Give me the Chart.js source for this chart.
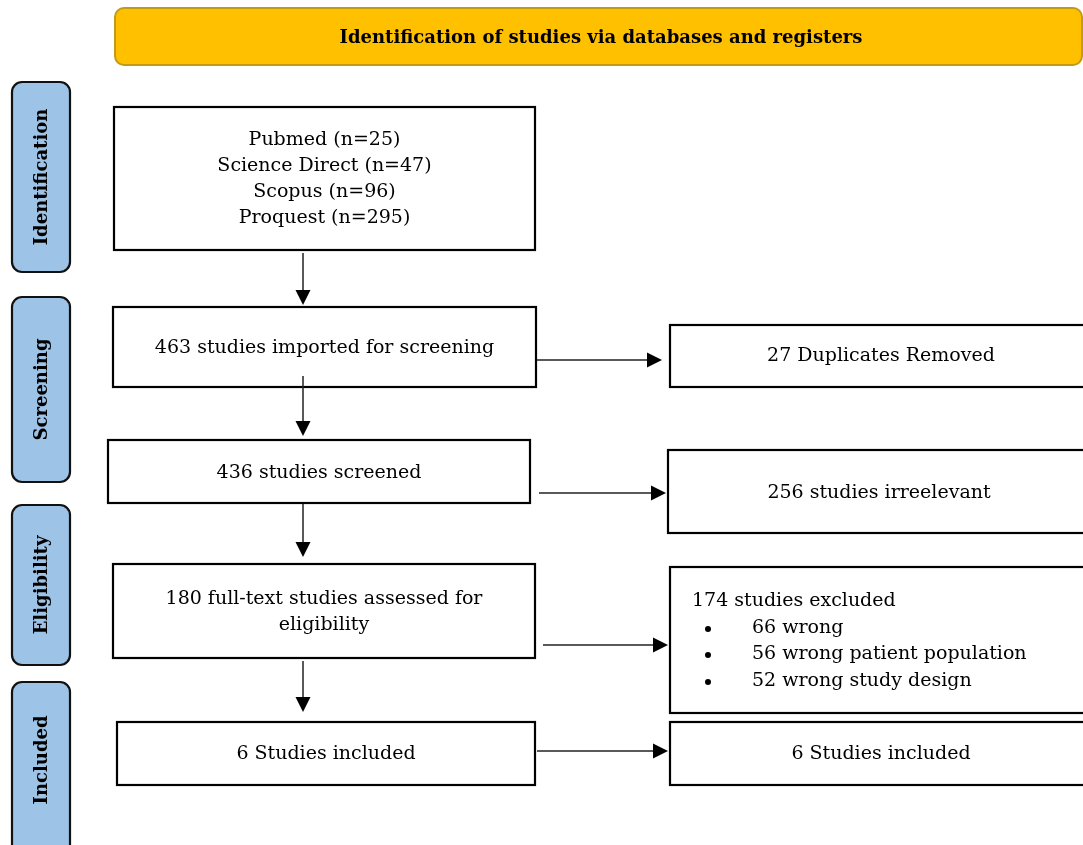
<!DOCTYPE html>
<html>
<head>
<meta charset="utf-8">
<script src="https://cdn.jsdelivr.net/npm/chart.js@4.4.1/dist/chart.umd.min.js"></script>
<style>
  html, body { margin: 0; padding: 0; background: #ffffff; }
  #wrap { position: relative; width: 1083px; height: 845px; }
</style>
</head>
<body>
<div id="wrap"><canvas id="c"></canvas></div>
<script>
// ---- Data ----
const headerTitle = "Identification of studies via databases and registers";
const stageLabels = ["Identification", "Screening", "Eligibility", "Included"];
const sourceNames = ["Pubmed", "Science Direct", "Scopus", "Proquest"];
const sourceCounts = [25, 47, 96, 295];
const flowCounts = [463, 436, 180, 6];          // imported, screened, assessed, included
const removedCounts = [27, 256, 174, 6];        // duplicates, irrelevant, excluded, included
const exclusionReasons = ["wrong", "wrong patient population", "wrong study design"];
const exclusionCounts = [66, 56, 52];

// ---- Texts built from data ----
const leftTexts = [
  sourceNames.map((n, i) => `${n} (n=${sourceCounts[i]})`),
  [`${flowCounts[0]} studies imported for screening`],
  [`${flowCounts[1]} studies screened`],
  [`${flowCounts[2]} full-text studies assessed for`, "eligibility"],
  [`${flowCounts[3]} Studies included`]
];
const rightTexts = [
  `${removedCounts[0]} Duplicates Removed`,
  `${removedCounts[1]} studies irreelevant`,
  `${removedCounts[2]} studies excluded`,
  `${removedCounts[3]} Studies included`
];

// ---- Layout (diagram units on the chart's x/y scales) ----
const layout = {
  header: [115, 8, 1082, 65],
  stages: [[12, 82, 70, 272], [12, 297, 70, 482], [12, 505, 70, 665], [12, 682, 70, 870]],
  left: [[114, 107, 535, 250], [113, 307, 536, 387], [108, 440, 530, 503], [113, 564, 535, 658], [117, 722, 535, 785]],
  leftTextY: [[140, 166, 192, 218], [348], [473], [599, 625], [754]],
  right: [[670, 325, 1095, 387], [668, 450, 1095, 533], [670, 567, 1095, 713], [670, 722, 1095, 785]],
  rightTextY: [356, 493, 601, 754],
  vArrows: [[303, 253, 305], [303, 376, 436], [303, 504, 557], [303, 661, 712]],
  hArrows: [[360, 537, 662], [493, 539, 666], [645, 543, 668], [751, 537, 668]],
  bulletX: 708, reasonX: 752, reasonY: [628, 654, 681], excludedX: 692
};

const SERIF = '"DejaVu Serif", "Liberation Serif", serif';

function roundRect(ctx, x0, y0, x1, y1, r) {
  ctx.beginPath();
  ctx.moveTo(x0 + r, y0);
  ctx.lineTo(x1 - r, y0);
  ctx.arcTo(x1, y0, x1, y0 + r, r);
  ctx.lineTo(x1, y1 - r);
  ctx.arcTo(x1, y1, x1 - r, y1, r);
  ctx.lineTo(x0 + r, y1);
  ctx.arcTo(x0, y1, x0, y1 - r, r);
  ctx.lineTo(x0, y0 + r);
  ctx.arcTo(x0, y0, x0 + r, y0, r);
  ctx.closePath();
}

const flowPlugin = {
  id: 'flow',
  afterDraw(chart) {
    const ctx = chart.ctx;
    const X = v => chart.scales.x.getPixelForValue(v);
    const Y = v => chart.scales.y.getPixelForValue(v);
    ctx.save();

    // header bar
    const h = layout.header;
    roundRect(ctx, X(h[0]), Y(h[1]), X(h[2]), Y(h[3]), 9);
    ctx.fillStyle = '#FFC000';
    ctx.fill();
    ctx.lineWidth = 2;
    ctx.strokeStyle = '#C39A14';
    ctx.stroke();
    ctx.fillStyle = '#000';
    ctx.font = 'bold 18px ' + SERIF;
    ctx.textAlign = 'center';
    ctx.textBaseline = 'middle';
    ctx.fillText(headerTitle, X(601), Y(38));

    // stage labels
    layout.stages.forEach((s, i) => {
      roundRect(ctx, X(s[0]), Y(s[1]), X(s[2]), Y(s[3]), 10);
      ctx.fillStyle = '#9DC3E6';
      ctx.fill();
      ctx.lineWidth = 2.2;
      ctx.strokeStyle = '#111';
      ctx.stroke();
      const cy = i === 3 ? 760 : (s[1] + s[3]) / 2;
      ctx.save();
      ctx.translate(X((s[0] + s[2]) / 2 + 1), Y(cy));
      ctx.rotate(-Math.PI / 2);
      ctx.fillStyle = '#000';
      ctx.font = 'bold 18px ' + SERIF;
      ctx.textAlign = 'center';
      ctx.textBaseline = 'middle';
      ctx.fillText(stageLabels[i], 0, 0);
      ctx.restore();
    });

    // boxes
    ctx.strokeStyle = '#000';
    ctx.lineWidth = 2.2;
    ctx.fillStyle = '#000';
    ctx.font = '19px ' + SERIF;
    ctx.textBaseline = 'middle';
    layout.left.forEach((b, i) => {
      ctx.strokeRect(X(b[0]), Y(b[1]), X(b[2]) - X(b[0]), Y(b[3]) - Y(b[1]));
      ctx.textAlign = 'center';
      leftTexts[i].forEach((t, j) => {
        ctx.fillText(t, X((b[0] + b[2]) / 2), Y(layout.leftTextY[i][j]));
      });
    });
    layout.right.forEach((b, i) => {
      ctx.strokeRect(X(b[0]), Y(b[1]), X(b[2]) - X(b[0]), Y(b[3]) - Y(b[1]));
      if (i === 2) {
        ctx.textAlign = 'left';
        ctx.fillText(rightTexts[i], X(layout.excludedX), Y(layout.rightTextY[i]));
        exclusionReasons.forEach((r, k) => {
          ctx.beginPath();
          ctx.arc(X(layout.bulletX), Y(layout.reasonY[k] + 1), 3, 0, Math.PI * 2);
          ctx.fill();
          ctx.fillText(`${exclusionCounts[k]} ${r}`, X(layout.reasonX), Y(layout.reasonY[k]));
        });
      } else {
        ctx.textAlign = 'center';
        ctx.fillText(rightTexts[i], X(b[0] + 211), Y(layout.rightTextY[i]));
      }
    });

    // arrows
    ctx.lineWidth = 1.5;
    ctx.strokeStyle = '#222';
    layout.vArrows.forEach(a => {
      const x = X(a[0]);
      ctx.beginPath();
      ctx.moveTo(x, Y(a[1]));
      ctx.lineTo(x, Y(a[2] - 12));
      ctx.stroke();
      ctx.beginPath();
      ctx.moveTo(x - 7.5, Y(a[2] - 15));
      ctx.lineTo(x + 7.5, Y(a[2] - 15));
      ctx.lineTo(x, Y(a[2]));
      ctx.closePath();
      ctx.fillStyle = '#000';
      ctx.fill();
    });
    layout.hArrows.forEach(a => {
      const y = Y(a[0]);
      ctx.beginPath();
      ctx.moveTo(X(a[1]), y);
      ctx.lineTo(X(a[2] - 12), y);
      ctx.stroke();
      ctx.beginPath();
      ctx.moveTo(X(a[2] - 15), y - 7.5);
      ctx.lineTo(X(a[2] - 15), y + 7.5);
      ctx.lineTo(X(a[2]), y);
      ctx.closePath();
      ctx.fillStyle = '#000';
      ctx.fill();
    });
    ctx.restore();
  }
};

new Chart(document.getElementById('c'), {
  type: 'scatter',
  data: { datasets: [{ data: [], pointRadius: 0 }] },
  options: {
    responsive: true,
    maintainAspectRatio: false,
    animation: false,
    layout: { padding: 0 },
    plugins: { legend: { display: false }, tooltip: { enabled: false } },
    scales: {
      x: { type: 'linear', min: 0, max: 1083, display: false },
      y: { type: 'linear', min: 0, max: 845, reverse: true, display: false }
    }
  },
  plugins: [flowPlugin]
});
</script>
</body>
</html>
